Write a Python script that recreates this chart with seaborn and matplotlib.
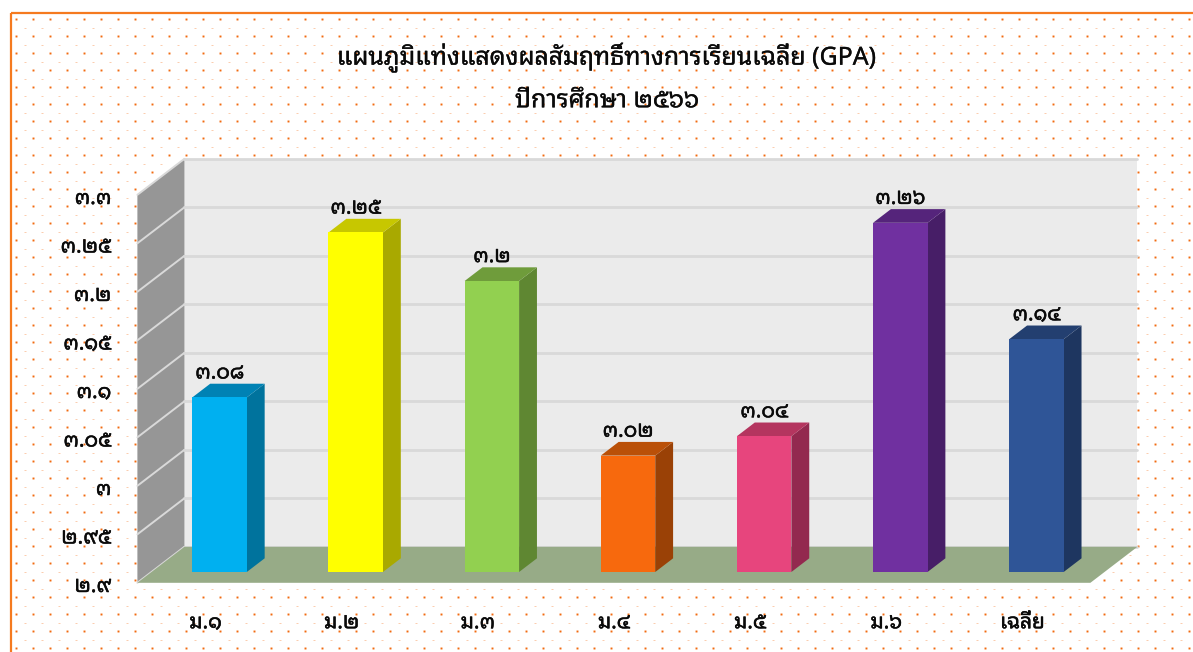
import matplotlib
matplotlib.use('Agg')
import matplotlib.pyplot as plt
import matplotlib.patheffects as pe
from matplotlib.patches import Polygon, Rectangle
from matplotlib.transforms import Affine2D
import seaborn as sns
import numpy as np
import pandas as pd

title_lines = 'แผนภูมิแท่งแสดงผลสัมฤทธิ์ทางการเรียนเฉลี่ย (GPA)\nปีการศึกษา ๒๕๖๖'
levels = ['ม.๑', 'ม.๒', 'ม.๓', 'ม.๔', 'ม.๕', 'ม.๖', 'เฉลี่ย']
gpa = [3.08, 3.25, 3.2, 3.02, 3.04, 3.26, 3.14]
gpa_labels = ['๓.๐๘', '๓.๒๕', '๓.๒', '๓.๐๒', '๓.๐๔', '๓.๒๖', '๓.๑๔']
front_colors = ['#00B0F0', '#FFFF00', '#92D050', '#F7690D', '#E7457D', '#7030A0', '#2F5597']
side_colors = ['#00739D', '#A9A900', '#5F8732', '#9A4106', '#93294F', '#471E67', '#1E3660']
top_colors = ['#0082B4', '#C7C700', '#6F9C3B', '#BA5008', '#B4355F', '#55247B', '#233F70']
y_ticks = [2.9, 2.95, 3.0, 3.05, 3.1, 3.15, 3.2, 3.25, 3.3]
y_tick_labels = ['๒.๙', '๒.๙๕', '๓', '๓.๐๕', '๓.๑', '๓.๑๕', '๓.๒', '๓.๒๕', '๓.๓']

W, H = 1193, 652
ORANGE = '#F26A0F'
INK = '#0A0A0A'
# the looped thai font only has one weight, so thicken it with a stroke
HEAVY = [pe.withStroke(linewidth=0.35, foreground=INK)]
TITLE_HEAVY = [pe.withStroke(linewidth=0.2, foreground=INK)]

# depth of the fake 3d box, data units per unit of depth
DX = 47 / 136.1
DY = 36 / 970
D_FRONT, D_BACK, D_BAR = -0.3, 0.7, 0.38


def pt(x, y, d):
    return (x + d * DX, y + d * DY)


def main():
    sns.set_theme(style='white')
    plt.rcParams['font.family'] = ['Noto Sans Thai Looped', 'DejaVu Sans']

    fig = plt.figure(figsize=(W / 100, H / 100), dpi=100, facecolor='white')

    # dotted paper + orange frame, in pixel coords
    bg = fig.add_axes([0, 0, 1, 1], zorder=0)
    bg.set_xlim(0, W)
    bg.set_ylim(H, 0)
    bg.axis('off')
    xs, ys = np.meshgrid(np.arange(16, W, 17), np.arange(19, H, 17))
    bg.plot(xs.ravel(), ys.ravel(), ls='none', marker='s', ms=1.4, mew=0, color=ORANGE)
    xs, ys = np.meshgrid(np.arange(24.5, W, 17), np.arange(27.5, H, 17))
    bg.plot(xs.ravel(), ys.ravel(), ls='none', marker='_', ms=1.5, mew=0.6, color='#FBC4A0')
    bg.add_patch(Rectangle((11, 13), W + 20, H + 20, fc='none', ec='#F57A1F', lw=1.6))

    ax = fig.add_axes([151.5 / W, (H - 572) / H, 953 / W, 388 / H], zorder=1)
    ax.patch.set_visible(False)

    df = pd.DataFrame({'level': levels, 'gpa': gpa})
    sns.barplot(data=df, x='level', y='gpa', hue='level', palette=front_colors, saturation=1,
                width=0.4, legend=False, ax=ax, zorder=3, linewidth=0)
    ax.set_xlim(-0.5, 6.5)
    ax.set_ylim(y_ticks[0], y_ticks[-1])
    sns.despine(ax=ax, left=True, bottom=True)
    ax.set_xlabel('')
    ax.set_ylabel('')

    x0, x1 = -0.5, 6.5
    y0, y1 = y_ticks[0], y_ticks[-1]

    # walls and floor
    ax.add_patch(Polygon([pt(x0, y0, D_BACK), pt(x1, y0, D_BACK), pt(x1, y1, D_BACK), pt(x0, y1, D_BACK)],
                         fc='#EBEBEB', ec='none', clip_on=False, zorder=0.5))
    ax.add_patch(Polygon([pt(x0, y0, D_FRONT), pt(x0, y0, D_BACK), pt(x0, y1, D_BACK), pt(x0, y1, D_FRONT)],
                         fc='#969696', ec='none', clip_on=False, zorder=0.5))
    ax.add_patch(Polygon([pt(x0, y0, D_FRONT), pt(x1, y0, D_FRONT), pt(x1, y0, D_BACK), pt(x0, y0, D_BACK)],
                         fc='#97AB87', ec='none', clip_on=False, zorder=0.7))
    for v in y_ticks:
        ax.plot(*zip(pt(x0, v, D_BACK), pt(x1, v, D_BACK)), color='#D9D9D9', lw=2, clip_on=False, zorder=0.6)
        ax.plot(*zip(pt(x0, v, D_FRONT), pt(x0, v, D_BACK)), color='#D9D9D9', lw=1.4, clip_on=False, zorder=0.6)

    # bar sides and tops
    for i, container_bar in enumerate(ax.containers):
        bar = container_bar[0]
        xl = bar.get_x()
        xr = xl + bar.get_width()
        v = gpa[i]
        ax.add_patch(Polygon([pt(xr, y0, 0), pt(xr, y0, D_BAR), pt(xr, v, D_BAR), pt(xr, v, 0)],
                             fc=side_colors[i], ec='none', clip_on=False, zorder=2))
        ax.add_patch(Polygon([pt(xl, v, 0), pt(xr, v, 0), pt(xr, v, D_BAR), pt(xl, v, D_BAR)],
                             fc=top_colors[i], ec='none', clip_on=False, zorder=2))
        ax.bar_label(container_bar, labels=[gpa_labels[i]], padding=10, fontsize=15,
                     color=INK, zorder=5, path_effects=HEAVY)

    # ticks live on the front edge of the box
    ax.set_yticks(y_ticks, y_tick_labels, fontsize=15, color=INK, path_effects=HEAVY)
    ax.set_xticks(range(len(levels)), levels, fontsize=15, color=INK, path_effects=HEAVY)
    ax.tick_params(axis='both', length=0)
    ax.tick_params(axis='y', pad=29)
    ax.tick_params(axis='x', pad=29)
    for lab in ax.get_yticklabels():
        lab.set_transform(lab.get_transform() + Affine2D().translate(0, -12))
    for lab in ax.get_xticklabels():
        lab.set_transform(lab.get_transform() + Affine2D().translate(-14, 0))

    fig.text(607 / W, 1 - 78 / H, title_lines, ha='center', va='center', fontsize=17.9,
             color=INK, linespacing=1.86, path_effects=TITLE_HEAVY)

    fig.savefig('out.png', dpi=100)


if __name__ == '__main__':
    main()
